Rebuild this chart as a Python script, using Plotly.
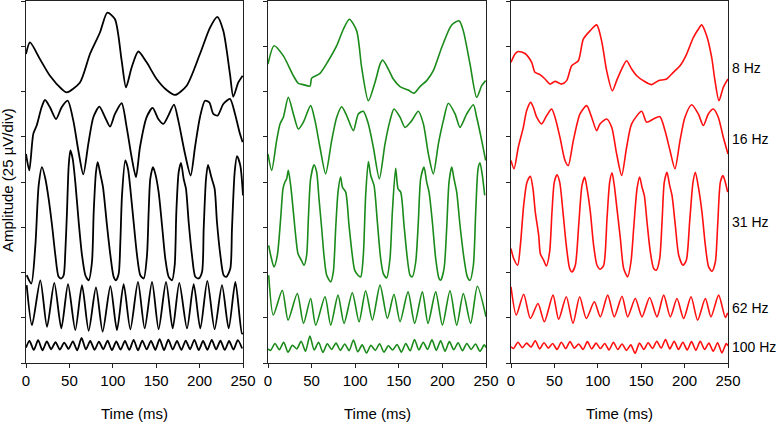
import plotly.graph_objects as go

W, H = 778, 423

freq_labels = ["8 Hz", "16 Hz", "31 Hz", "62 Hz", "100 Hz"]
label_y = [163.1, 124.0, 77.7, 30.3, 8.8]
panel_colors = ["#000000", "#1a8a1a", "#ff0f0f"]
x_ticks = [0, 50, 100, 150, 200, 250]
y_ticks = [0, 25, 50, 75, 100, 125, 150, 175, 200]

# ---------------- Panel 1 (black) ----------------
p1_8_t = [0, 4.6, 16.1, 27.6, 41.1, 46.8, 62.2, 73.7, 85.2, 93.7, 102.5, 110.2, 115.2, 121.7, 129.4, 139.0, 150.5, 162.0, 171.6, 185.1, 200.4, 212.0, 220.4, 227.3, 235.0, 238.8, 244.6, 249.6]
p1_8_v = [170.7, 177.1, 167.9, 158.7, 151.4, 149.5, 155.0, 170.7, 182.6, 193.6, 189.9, 167.0, 152.3, 163.3, 172.1, 166.1, 156.9, 150.8, 148.1, 153.2, 170.7, 185.3, 191.2, 183.5, 159.6, 147.1, 155.0, 158.7]

p1_16_t = [0, 3.8, 8.4, 12.3, 18.0, 21.9, 27.6, 34.6, 41.1, 48.0, 54.5, 60.3, 66.0, 71.8, 77.6, 84.5, 91.0, 96.8, 102.5, 110.2, 116.0, 121.7, 126.7, 131.3, 139.0, 145.9, 152.4, 158.2, 164.0, 170.5, 175.5, 183.2, 189.7, 194.7, 200.4, 206.2, 211.2, 215.8, 220.8, 227.3, 235.0, 240.8, 246.5, 249.6]
p1_16_v = [115.5, 106.4, 126.6, 131.2, 141.3, 145.3, 141.3, 134.8, 141.3, 144.9, 133.9, 117.4, 104.2, 121.1, 135.8, 141.6, 135.8, 130.6, 137.6, 143.5, 130.2, 113.7, 102.7, 119.2, 135.8, 140.9, 134.8, 132.1, 136.7, 142.7, 133.9, 115.5, 103.6, 119.2, 135.8, 144.9, 144.0, 137.6, 136.7, 143.1, 145.9, 137.6, 126.6, 122.0]

p1_31_t = [0.8, 6.1, 10.8, 14.6, 18.4, 22.3, 26.1, 30.0, 33.8, 37.6, 40.7, 43.4, 45.3, 47.2, 49.2, 51.1, 53.8, 56.8, 60.7, 64.5, 68.4, 72.2, 76.0, 78.0, 80.6, 82.6, 85.6, 88.7, 93.3, 97.2, 101.0, 103.7, 106.8, 108.7, 110.6, 114.4, 117.5, 120.2, 124.0, 127.9, 131.7, 135.6, 139.4, 141.3, 143.2, 146.3, 149.0, 152.8, 156.7, 160.5, 164.4, 168.2, 171.3, 173.2, 175.9, 178.6, 181.6, 184.3, 187.4, 191.2, 195.1, 198.9, 202.8, 204.7, 207.4, 209.7, 213.5, 217.3, 220.0, 223.9, 227.7, 230.8, 235.4, 237.3, 240.4, 243.1, 246.9, 250.0]
p1_31_v = [48.5, 43.9, 65.0, 98.1, 108.2, 101.8, 90.7, 76.1, 59.6, 47.6, 46.7, 48.5, 61.4, 83.4, 109.1, 117.4, 112.8, 99.9, 77.9, 59.6, 48.5, 45.7, 55.8, 83.4, 105.4, 111.0, 104.5, 97.2, 76.1, 59.6, 47.6, 45.7, 49.4, 66.9, 92.6, 111.9, 107.3, 96.3, 77.9, 59.6, 48.5, 46.7, 59.6, 83.4, 101.8, 108.2, 104.5, 94.4, 76.1, 57.7, 47.6, 45.7, 54.0, 83.4, 105.4, 110.6, 101.8, 96.3, 77.9, 59.6, 47.6, 46.7, 50.3, 74.2, 101.8, 109.5, 102.7, 96.3, 77.9, 59.6, 48.5, 47.6, 52.2, 74.2, 105.4, 114.3, 109.1, 92.6]

p1_62_t = [0.8, 6.9, 16.5, 24.2, 32.6, 40.7, 48.4, 56.8, 64.5, 72.2, 80.6, 88.3, 97.2, 104.8, 112.5, 120.2, 129.0, 136.7, 145.2, 152.8, 161.3, 169.0, 176.6, 185.5, 193.2, 200.8, 208.9, 217.3, 225.8, 233.5, 241.2, 248.8, 250]
p1_62_v = [43.0, 20.9, 45.7, 20.0, 44.3, 19.1, 43.5, 18.2, 43.0, 17.8, 41.7, 17.3, 42.4, 18.2, 43.5, 18.6, 44.8, 19.1, 44.8, 18.6, 44.8, 19.1, 44.3, 19.1, 43.5, 19.1, 45.4, 18.6, 43.0, 19.1, 44.8, 16.3, 16.5]

p1_100_t = [0, 4, 9, 14, 19, 24, 29, 34, 39, 44, 49, 54, 59, 64, 69, 74, 79, 84, 89, 94, 99, 104, 109, 114, 119, 124, 129, 134, 139, 144, 149, 154, 159, 164, 169, 174, 179, 184, 189, 194, 199, 204, 209, 214, 219, 224, 229, 234, 239, 244, 249]
p1_100_v = [8.5, 12.2, 7.2, 12.6, 7.0, 11.9, 7.6, 11.5, 7.4, 11.3, 7.8, 12.0, 7.0, 13.8, 7.5, 12.2, 7.3, 11.8, 7.6, 12.3, 7.1, 11.9, 7.4, 12.2, 7.2, 12.8, 7.0, 12.3, 7.5, 12.2, 7.3, 13.2, 7.1, 12.9, 7.4, 12.2, 7.2, 12.4, 7.6, 12.8, 7.1, 12.2, 7.3, 12.8, 7.5, 12.3, 7.2, 12.2, 7.4, 12.6, 8.0]

# ---------------- Panel 2 (green) ----------------
p2_8_t = [0, 6.9, 17.6, 29.1, 34.8, 40.5, 48.2, 50.1, 59.6, 69.2, 78.8, 86.4, 93.3, 101.7, 107.4, 115.1, 122.7, 128.5, 131.5, 138.0, 143.7, 151.4, 160.9, 167.4, 174.3, 182.0, 189.6, 199.2, 208.7, 212.6, 219.4, 224.0, 231.7, 239.3, 245.1, 249.6]
p2_8_v = [165.1, 175.3, 169.7, 158.7, 154.5, 153.8, 153.0, 157.4, 160.0, 167.0, 175.3, 184.4, 189.9, 183.5, 163.3, 144.9, 155.0, 165.1, 167.4, 162.4, 156.9, 152.7, 150.8, 149.0, 152.7, 156.0, 161.5, 174.3, 185.3, 187.6, 189.0, 183.5, 165.1, 146.8, 153.2, 156.0]

p2_16_t = [0, 4.2, 9.9, 13.8, 17.6, 23.3, 29.1, 34.8, 40.5, 48.9, 53.9, 59.6, 66.1, 73.0, 78.8, 84.5, 90.2, 97.9, 103.6, 109.3, 115.1, 120.8, 127.7, 134.2, 139.9, 144.5, 151.4, 157.1, 164.8, 172.4, 178.2, 183.9, 189.6, 195.4, 201.1, 206.8, 214.5, 220.2, 227.9, 235.5, 239.3, 245.1, 249.6]
p2_16_v = [115.5, 106.4, 122.9, 132.1, 135.8, 146.8, 137.6, 129.3, 133.0, 142.2, 133.9, 119.2, 104.5, 122.9, 135.8, 141.6, 136.7, 128.4, 137.6, 139.1, 132.1, 119.2, 101.8, 121.1, 133.9, 140.3, 135.8, 130.2, 133.9, 139.1, 132.1, 115.5, 104.5, 121.1, 133.9, 143.5, 137.6, 130.2, 137.6, 142.7, 135.8, 122.9, 111.9]

p2_31_t = [0.8, 3.1, 6.9, 10.7, 14.5, 17.2, 19.1, 21.4, 23.3, 26.0, 29.1, 31.7, 34.4, 38.2, 41.3, 44.3, 46.3, 48.9, 52.8, 55.8, 58.5, 61.6, 64.2, 67.3, 71.9, 74.9, 77.6, 80.3, 83.3, 85.3, 89.1, 92.9, 96.7, 99.4, 103.2, 106.3, 109.3, 112.0, 115.1, 117.8, 121.6, 125.4, 129.2, 132.3, 136.1, 139.9, 142.6, 146.4, 149.1, 152.2, 156.0, 159.8, 162.9, 165.5, 169.4, 172.4, 175.1, 178.9, 182.0, 184.7, 188.5, 192.3, 196.1, 198.0, 201.9, 204.9, 207.6, 210.7, 213.3, 216.4, 220.2, 224.8, 228.6, 231.7, 235.5, 238.2, 240.9, 243.1, 245.8, 248.5]
p2_31_v = [65.0, 59.5, 53.1, 59.5, 79.7, 96.3, 99.6, 101.8, 106.4, 98.1, 83.4, 70.5, 60.4, 56.8, 54.0, 59.5, 79.7, 101.8, 109.5, 105.4, 90.7, 74.2, 59.5, 48.5, 44.8, 50.3, 74.2, 94.4, 102.7, 97.2, 94.4, 76.1, 59.5, 51.3, 48.5, 47.6, 59.5, 92.6, 111.3, 103.6, 98.1, 77.9, 57.7, 49.4, 47.0, 57.7, 83.4, 107.6, 96.3, 94.4, 76.1, 57.7, 48.5, 47.6, 55.8, 77.9, 101.8, 108.2, 99.9, 94.4, 77.9, 57.7, 46.7, 45.7, 52.2, 74.2, 99.9, 108.2, 101.8, 94.4, 76.1, 57.7, 47.6, 45.7, 54.0, 83.4, 107.3, 110.6, 103.6, 92.6]

p2_62_t = [0.8, 6.1, 16.4, 23.0, 33.6, 40.7, 48.9, 54.7, 65.4, 71.9, 80.3, 87.2, 96.7, 104.4, 112.0, 119.7, 128.5, 136.9, 144.5, 151.4, 160.6, 168.2, 177.0, 183.5, 192.3, 200.0, 208.7, 216.4, 224.0, 232.4, 240.1, 250.0]
p2_62_v = [48.5, 26.5, 40.2, 23.7, 38.4, 21.9, 35.6, 20.9, 36.6, 20.9, 37.5, 21.9, 38.8, 22.8, 39.9, 23.7, 43.0, 24.6, 38.0, 22.8, 39.3, 21.9, 39.3, 21.9, 39.3, 20.9, 39.9, 20.9, 38.4, 21.9, 42.4, 25.5]

p2_100_t = [0, 3, 8, 13, 18, 23, 28, 33, 38, 43, 48, 53, 58, 63, 68, 73, 78, 83, 88, 93, 98, 103, 108, 113, 118, 123, 128, 133, 138, 143, 148, 153, 158, 163, 168, 173, 178, 183, 188, 193, 198, 203, 208, 213, 218, 223, 228, 233, 238, 243, 248, 250]
p2_100_v = [7.8, 7.0, 10.8, 7.4, 11.5, 6.0, 9.8, 7.8, 12.0, 6.5, 14.9, 7.2, 11.5, 5.8, 10.6, 7.5, 11.0, 7.0, 10.5, 6.8, 12.7, 6.2, 10.0, 5.5, 9.8, 7.0, 10.6, 6.0, 9.5, 7.2, 10.2, 6.0, 10.8, 6.8, 13.0, 7.2, 11.5, 7.5, 12.8, 7.0, 12.3, 6.5, 11.8, 7.3, 11.2, 6.8, 10.8, 7.5, 10.5, 6.5, 10.0, 8.5]

# ---------------- Panel 3 (red) ----------------
p3_8_t = [0, 4.6, 8.4, 16.1, 23.8, 27.6, 33.4, 39.2, 44.9, 50.7, 58.4, 64.1, 69.9, 77.6, 83.3, 91.0, 98.7, 104.4, 110.2, 116.7, 121.7, 127.5, 133.2, 139.0, 144.8, 152.4, 162.0, 169.7, 179.3, 187.0, 194.7, 202.4, 210.0, 215.8, 219.6, 225.4, 231.2, 235.0, 239.6, 244.6, 250.0]
p3_8_v = [166.1, 170.7, 172.1, 171.0, 166.1, 160.6, 159.3, 156.9, 154.1, 155.6, 154.1, 156.0, 164.2, 167.0, 178.9, 183.5, 186.8, 178.0, 161.5, 150.4, 156.0, 162.4, 167.0, 162.4, 158.7, 156.0, 153.8, 156.0, 156.9, 160.6, 164.2, 170.7, 179.8, 184.4, 186.8, 180.8, 168.8, 156.0, 144.9, 152.3, 156.9]

p3_16_t = [0, 3.5, 8.4, 14.2, 18.0, 22.7, 25.7, 29.6, 35.3, 41.1, 46.8, 50.7, 56.4, 62.2, 66.0, 71.8, 79.5, 87.2, 92.9, 98.7, 102.5, 110.2, 116.0, 121.7, 127.5, 133.2, 139.0, 150.5, 156.3, 164.0, 171.6, 177.4, 183.2, 188.9, 194.7, 200.4, 208.1, 215.8, 221.6, 227.3, 233.1, 238.8, 244.6, 250.0]
p3_16_v = [111.9, 107.3, 119.2, 130.2, 139.4, 144.0, 141.3, 135.8, 132.1, 136.7, 140.3, 135.8, 124.7, 111.9, 109.1, 122.9, 137.6, 142.2, 135.8, 128.4, 132.1, 134.8, 130.2, 115.5, 103.6, 119.2, 132.1, 139.1, 133.0, 134.8, 136.1, 128.4, 117.4, 107.3, 122.9, 135.8, 142.7, 137.6, 131.2, 137.6, 140.3, 135.8, 124.7, 115.5]

p3_31_t = [0, 3.1, 7.7, 10.8, 14.6, 18.4, 22.3, 25.3, 28.0, 31.9, 33.8, 37.6, 40.7, 44.5, 47.2, 49.9, 53.0, 56.1, 59.9, 63.7, 67.6, 70.3, 74.1, 78.0, 81.8, 84.9, 87.6, 91.4, 95.2, 99.1, 102.9, 106.8, 110.6, 113.7, 116.4, 119.0, 122.1, 126.0, 129.8, 134.4, 138.2, 141.3, 145.2, 148.2, 150.9, 153.6, 156.7, 160.5, 164.4, 167.4, 171.3, 174.0, 176.6, 179.7, 182.8, 185.5, 189.3, 193.2, 198.1, 202.0, 205.8, 209.7, 212.4, 216.2, 220.0, 223.9, 227.7, 231.6, 235.4, 238.1, 241.2, 244.2, 246.9, 249.6]
p3_31_v = [63.2, 57.7, 54.0, 65.0, 87.1, 99.9, 103.2, 96.3, 83.4, 70.5, 60.4, 56.8, 53.6, 61.4, 83.4, 99.9, 104.0, 99.9, 83.4, 65.0, 52.2, 50.3, 54.0, 76.1, 98.1, 102.7, 96.3, 83.4, 65.0, 54.0, 51.8, 54.0, 79.7, 99.9, 105.1, 98.1, 85.2, 68.7, 52.2, 47.6, 55.8, 74.2, 96.3, 102.7, 97.2, 92.6, 77.9, 61.4, 52.2, 51.3, 57.7, 77.9, 99.9, 105.4, 98.1, 92.6, 76.1, 59.5, 54.0, 56.8, 77.9, 99.9, 105.4, 96.3, 83.4, 65.0, 53.1, 50.7, 55.8, 76.1, 99.9, 103.6, 99.9, 94.4]

p3_62_t = [0, 6.1, 14.6, 22.3, 31.1, 38.4, 48.4, 54.9, 63.7, 71.4, 79.1, 86.8, 96.0, 102.9, 111.4, 119.0, 127.9, 134.4, 143.2, 150.9, 159.7, 168.2, 175.9, 183.6, 191.2, 198.9, 207.4, 215.0, 223.9, 230.4, 239.2, 246.9, 249.6]
p3_62_v = [42.1, 26.5, 38.0, 24.6, 32.9, 22.8, 37.5, 24.1, 36.6, 21.9, 36.6, 24.6, 33.8, 25.5, 37.5, 25.5, 36.9, 25.5, 35.6, 25.5, 36.2, 25.5, 37.5, 25.5, 35.6, 24.6, 36.6, 23.7, 35.6, 25.5, 37.5, 25.2, 27.7]

p3_100_t = [0, 3, 8, 13, 18, 23, 28, 33, 38, 43, 48, 53, 58, 63, 68, 73, 78, 83, 88, 93, 98, 103, 108, 113, 118, 123, 128, 133, 138, 143, 148, 153, 158, 163, 168, 173, 178, 183, 188, 193, 198, 203, 208, 213, 218, 223, 228, 233, 238, 243, 248, 250]
p3_100_v = [9.0, 8.0, 11.5, 8.5, 11.0, 8.8, 12.3, 7.8, 11.2, 8.2, 10.8, 7.5, 11.5, 8.0, 11.8, 8.2, 10.5, 7.5, 11.8, 7.8, 11.0, 8.0, 10.8, 7.2, 11.5, 7.5, 10.5, 7.0, 10.0, 5.3, 11.0, 7.5, 11.2, 8.0, 12.0, 8.2, 13.0, 7.8, 12.0, 7.5, 11.5, 7.2, 11.8, 7.0, 12.0, 7.5, 11.0, 6.5, 11.2, 5.6, 10.8, 9.5]

panels = [
    [(p1_8_t, p1_8_v), (p1_16_t, p1_16_v), (p1_31_t, p1_31_v), (p1_62_t, p1_62_v), (p1_100_t, p1_100_v)],
    [(p2_8_t, p2_8_v), (p2_16_t, p2_16_v), (p2_31_t, p2_31_v), (p2_62_t, p2_62_v), (p2_100_t, p2_100_v)],
    [(p3_8_t, p3_8_v), (p3_16_t, p3_16_v), (p3_31_t, p3_31_v), (p3_62_t, p3_62_v), (p3_100_t, p3_100_v)],
]
line_widths = [1.8, 1.6, 1.6]

# panel pixel frames
x_dom_px = [(26, 243), (268, 486), (511, 728)]
y_top_px, y_bot_px = 1, 363

fig = go.Figure()
for i, traces in enumerate(panels):
    ax = "" if i == 0 else str(i + 1)
    for (t, v) in traces:
        fig.add_trace(go.Scatter(
            x=t, y=v, mode="lines", xaxis="x" + ax, yaxis="y" + ax,
            line=dict(color=panel_colors[i], width=line_widths[i], shape="spline", smoothing=0.7),
            showlegend=False, hoverinfo="skip", cliponaxis=True))

font_main = "Liberation Sans, Arial, sans-serif"
FS = 15
FS_LAB = 14
layout = dict(
    width=W, height=H,
    margin=dict(l=0, r=0, t=0, b=0, pad=0, autoexpand=False),
    paper_bgcolor="white", plot_bgcolor="white", showlegend=False,
    font=dict(family=font_main, size=FS, color="black"),
)
ydom = [1 - y_bot_px / H, 1 - y_top_px / H]
annotations = []
for i, (x0, x1) in enumerate(x_dom_px):
    ax = "" if i == 0 else str(i + 1)
    layout["xaxis" + ax] = dict(
        domain=[x0 / W, x1 / W], range=[0, 250], tickvals=x_ticks,
        ticks="outside", ticklen=4, tickwidth=1, tickcolor="#222",
        showline=True, linecolor="#222", linewidth=1.4, mirror=True,
        showgrid=False, zeroline=False, anchor="y" + ax, automargin=False,
        tickfont=dict(family=font_main, size=FS, color="black"),
    )
    layout["yaxis" + ax] = dict(
        domain=ydom, range=[0, 200], tickvals=y_ticks, showticklabels=False,
        ticks="outside", ticklen=4, tickwidth=1, tickcolor="#222",
        showline=True, linecolor="#222", linewidth=1.4, mirror=True,
        showgrid=False, zeroline=False, anchor="x" + ax, automargin=False,
    )
    annotations.append(dict(
        text="Time (ms)", xref="paper", yref="paper",
        x=(x0 + x1) / 2 / W, y=1 - 413 / H, xanchor="center", yanchor="middle",
        showarrow=False, font=dict(family=font_main, size=FS, color="black")))

annotations.append(dict(
    text="Amplitude (25 µV/div)", xref="paper", yref="paper",
    x=8 / W, y=1 - 180 / H, xanchor="center", yanchor="middle", textangle=-90,
    showarrow=False, font=dict(family=font_main, size=FS, color="black")))

for lab, yv in zip(freq_labels, label_y):
    annotations.append(dict(
        text=lab, xref="paper", yref="y3", x=730 / W, y=yv,
        xanchor="left", yanchor="middle", showarrow=False,
        font=dict(family=font_main, size=FS_LAB, color="black")))

layout["annotations"] = annotations
fig.update_layout(**layout)
fig.write_html("out.html", config={"displayModeBar": False},
               post_script="document.body.style.margin='0';document.body.style.overflow='hidden';")
